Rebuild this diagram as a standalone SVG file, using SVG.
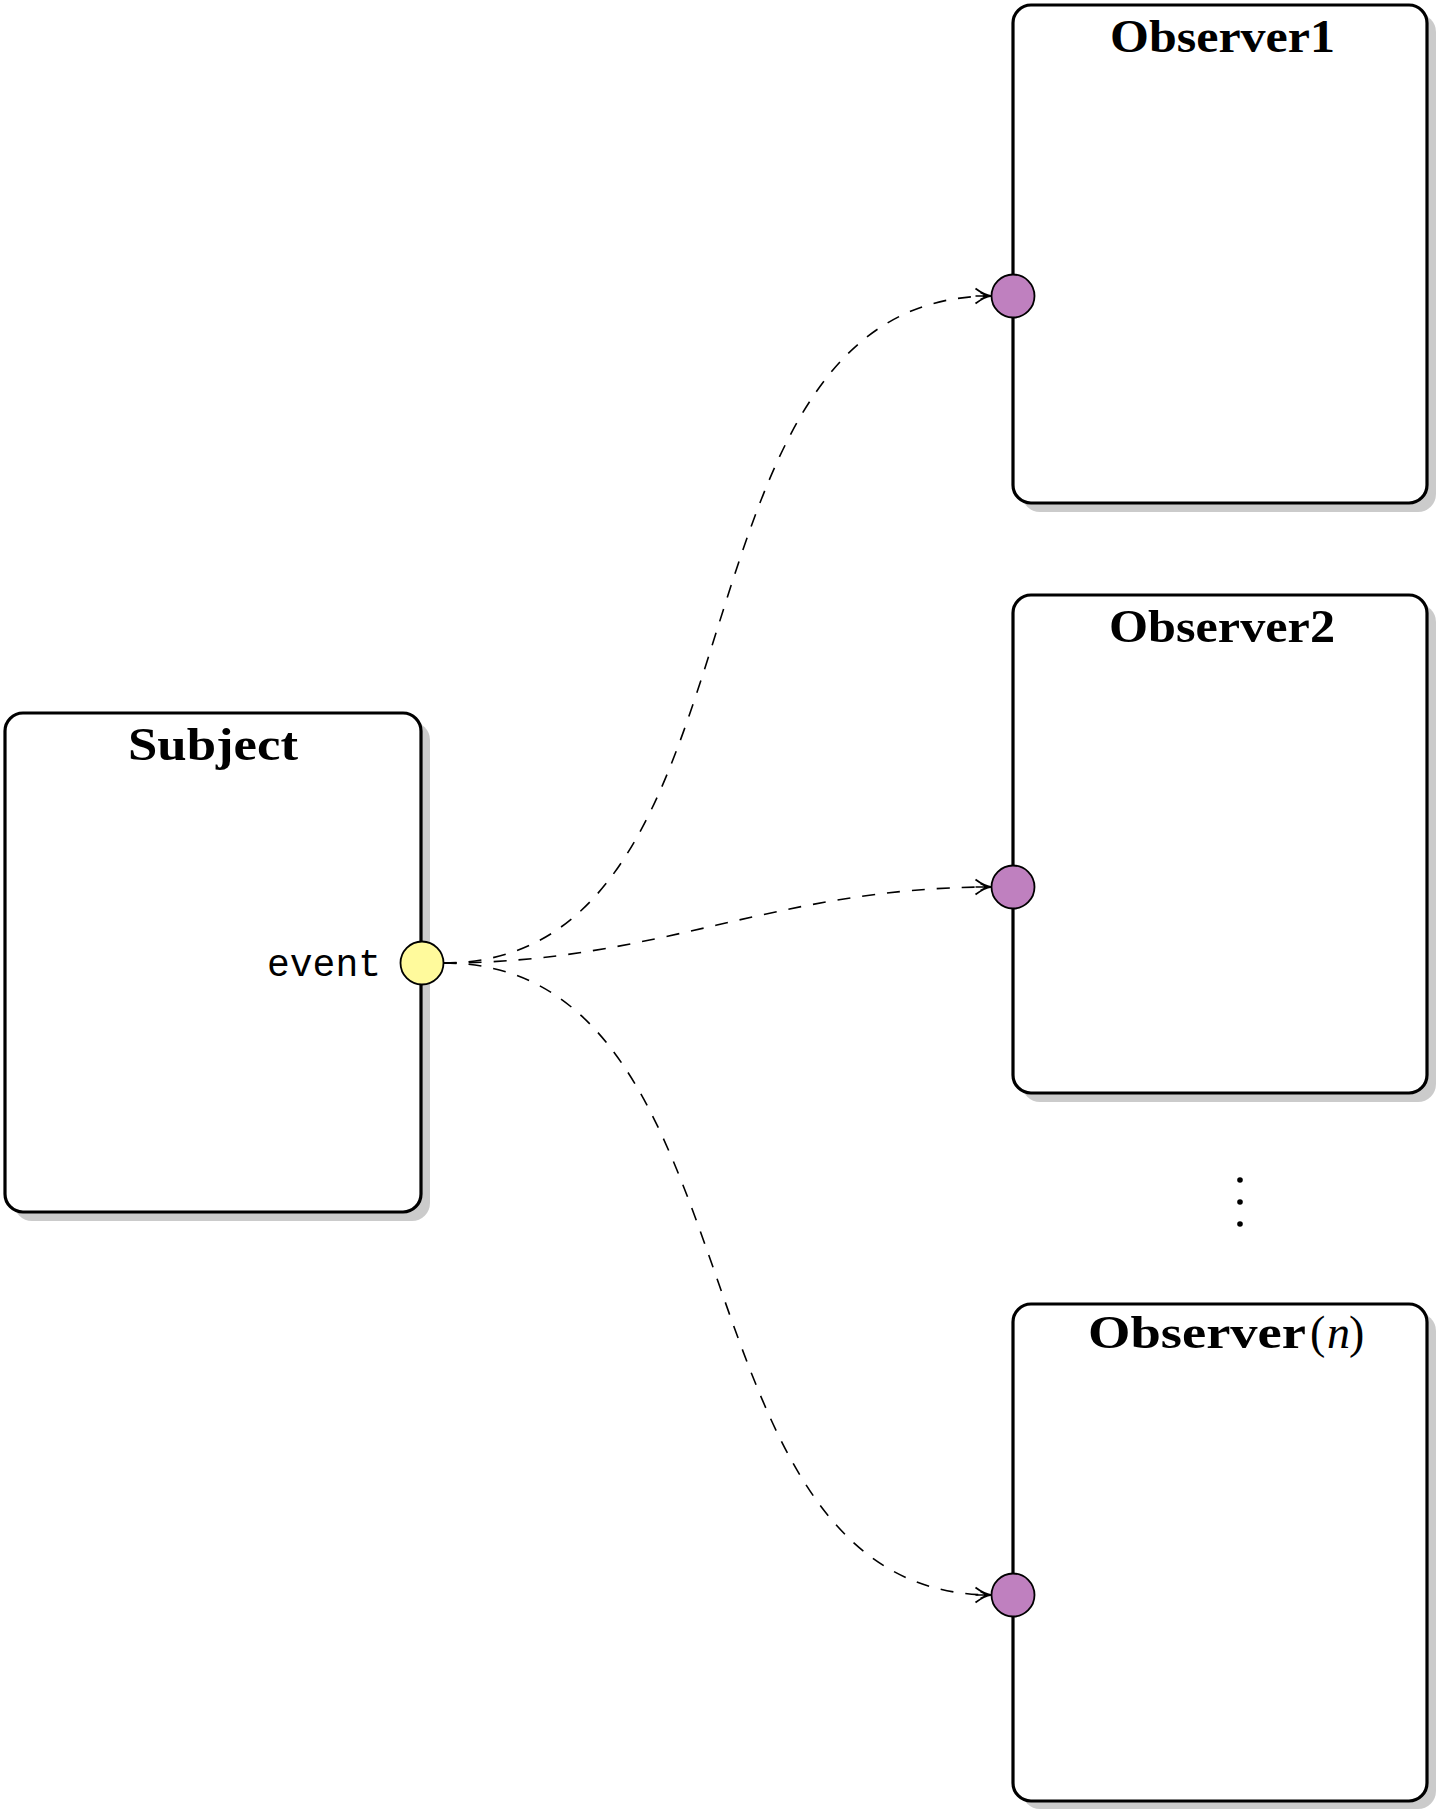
<svg xmlns="http://www.w3.org/2000/svg" width="1436" height="1809" viewBox="0 0 1436 1809">
<style>
.shadow{fill:#cbcbcb;stroke:none}
.box{fill:#ffffff;stroke:#000;stroke-width:3.2}
.title{font-family:"Liberation Serif","DejaVu Serif",serif;font-weight:bold;font-size:46px;fill:#000}
.mono{font-family:"Liberation Mono","DejaVu Sans Mono",monospace;font-size:38px;fill:#000}
.port-in{fill:#bf80bf;stroke:#000;stroke-width:1.8}
.port-out{fill:#fffa9c;stroke:#000;stroke-width:1.8}
.conn{fill:none;stroke:#000;stroke-width:1.6;stroke-dasharray:13 12}
</style>
<defs>
<marker id="arr" markerUnits="userSpaceOnUse" viewBox="-18 -10 20 20" refX="0" refY="0" markerWidth="20" markerHeight="20" orient="auto" overflow="visible">
<path d="M-16,-7.5 C-10,-3 -5,-0.7 0,0 C-5,0.7 -10,3 -16,7.5 M-11,-3.5 L-4,0 L-11,3.5 M-16,0 L0,0" fill="none" stroke="#000" stroke-width="1.7" stroke-dasharray="none"/>
</marker>
</defs>

<g id="subject">
<rect class="shadow" x="14" y="722" width="416" height="499" rx="18"/>
<rect class="box" x="5" y="713" width="416" height="499" rx="18"/>
<text class="title" x="128" y="760" textLength="170" lengthAdjust="spacingAndGlyphs">Subject</text>
<text class="mono" x="267" y="976" textLength="114" lengthAdjust="spacingAndGlyphs">event</text>
<circle class="port-out" cx="422" cy="963" r="21.5"/>
</g>

<g id="observer1">
<rect class="shadow" x="1022" y="14" width="414" height="498" rx="18"/>
<rect class="box" x="1013" y="5" width="414" height="498" rx="18"/>
<text class="title" x="1110" y="52" textLength="225" lengthAdjust="spacingAndGlyphs">Observer1</text>
<circle class="port-in" cx="1013" cy="296" r="21.5"/>
</g>

<g id="observer2">
<rect class="shadow" x="1022" y="604" width="414" height="498" rx="18"/>
<rect class="box" x="1013" y="595" width="414" height="498" rx="18"/>
<text class="title" x="1109" y="642" textLength="226" lengthAdjust="spacingAndGlyphs">Observer2</text>
<circle class="port-in" cx="1013" cy="887" r="21.5"/>
</g>

<g id="ellipsis">
<circle cx="1240" cy="1180" r="2.8" fill="#000"/>
<circle cx="1240" cy="1202" r="2.8" fill="#000"/>
<circle cx="1240" cy="1224" r="2.8" fill="#000"/>
</g>

<g id="observern">
<rect class="shadow" x="1022" y="1313" width="414" height="496" rx="18"/>
<rect class="box" x="1013" y="1304" width="414" height="497" rx="18"/>
<text class="title" x="1088" y="1348"><tspan textLength="218" lengthAdjust="spacingAndGlyphs">Observer</tspan><tspan x="1310" font-weight="normal">(</tspan><tspan x="1327" font-weight="normal" font-style="italic">n</tspan><tspan x="1349" font-weight="normal">)</tspan></text>
<circle class="port-in" cx="1013" cy="1595" r="21.5"/>
</g>

<g id="connectors">
<path class="conn" d="M443.5,963 C781,963 653,296 991.5,296" marker-end="url(#arr)"/>
<path class="conn" d="M443.5,963 C660,963 774,887 991.5,887" marker-end="url(#arr)"/>
<path class="conn" d="M443.5,963 C770,963 664,1595 991.5,1595" marker-end="url(#arr)"/>
</g>
</svg>
